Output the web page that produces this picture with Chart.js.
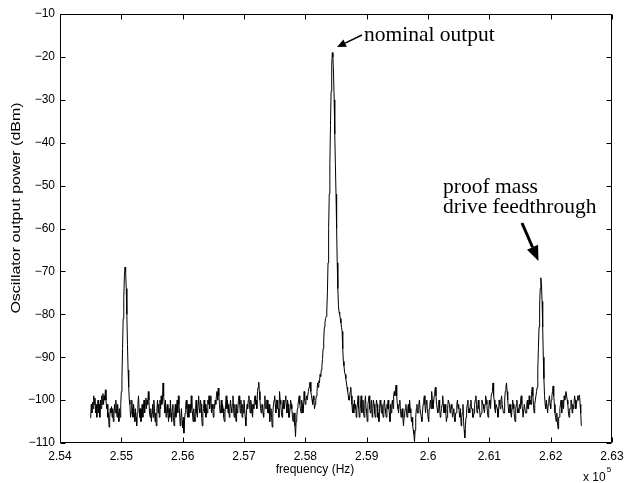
<!DOCTYPE html>
<html><head><meta charset="utf-8">
<script src="https://cdn.jsdelivr.net/npm/chart.js@4.4.0/dist/chart.umd.min.js"></script>
<style>html,body{margin:0;padding:0;background:#fff;}#wrap{width:630px;height:483px;position:relative;}</style>
</head><body><div id="wrap"><canvas id="c" width="630" height="483"></canvas></div>
<script>
// Sweep settings of the spectrum (Hz)
const freqStartHz = 254500;
const freqStepHz = 10;
const freqScale = 1e5; // axis shows frequency x 10^5

// Oscillator output power (dBm), one value per sweep point (801 points)
const powerDbm = [
 -104.2,-101,-103,-100.5,-102,-99,-101,-99.5,-103,-101,-104,-102,-100,-103,-101,-104,-100,-102,-99,-101,
 -98.5,-101,-99,-100,-97.6,-100,-102,-101,-104,-103,-106.3,-104,-102,-103,-101.5,-104,-102,-105,-103,-101,
 -103,-100,-102,-104,-101,-103,-105,-102,-104,-101,-98,-95,-88,-81,-76,-71,-69,-70,-74,-80,
 -87,-93,-97,-100,-101,-104,-103,-100,-102,-104,-101,-103,-105,-102,-104,-106,-103,-101,-99,-102,
 -104,-102,-105,-103,-101,-104,-102,-100,-103,-101,-99.5,-102,-100,-101,-98,-100,-103,-104,-102,-105,
 -103,-101,-104,-100,-102,-105,-103,-106,-102,-100,-103,-101,-104,-100,-102,-99,-101,-100,-96,-99,
 -101,-103,-100,-104,-102,-101,-103,-105,-102,-104,-100,-103,-105,-102,-101,-104,-106,-103,-101,-104,
 -102,-100,-103,-99,-101,-103,-106,-104,-102,-105,-106.5,-104,-107.7,-105,-103,-101,-100,-102,-104,-101,
 -104,-102,-101,-103,-99,-102,-103,-105,-102,-104,-105,-102,-100,-103,-104,-101,-99,-102,-103,-100,
 -101,-104,-106,-103,-102,-100,-103,-101,-104,-102,-103,-100,-101,-99,-102,-100,-99,-103,-101,-102,
 -104,-101,-102,-100,-101,-99,-98,-100,-97.2,-99,-101,-103,-102,-100,-103,-101,-102,-104,-105,-103,
 -101,-99,-102,-100,-103,-101,-104,-102,-100,-102,-103,-101,-99,-102,-104,-101,-103,-105,-101,-103,
 -102,-100,-99,-101,-103,-100,-102,-104,-101,-103,-100,-102,-104,-106,-103,-101,-102,-100,-99,-101,
 -103,-100,-101,-103,-104,-101,-102,-100,-99,-101,-100,-102,-98,-97,-95.8,-98,-100,-102,-103,-101,
 -101,-103,-104,-101,-99,-102,-102,-100,-100,-103,-103,-101,-105,-103,-102,-104,-106.3,-103,-101,-100,
 -99,-101,-103,-100,-100,-102,-102,-104,-98,-100,-101,-103,-104,-101,-100,-102,-102,-100,-99,-101,
 -103,-100,-101,-104,-104,-102,-100,-101,-102,-104,-105,-103,-103,-106,-108.5,-105,-104,-102,-101,-100,
 -99,-101,-102,-103,-100,-101,-103,-102,-98,-100,-101,-100,-99,-100,-100,-98,-97,-96,-95.8,-98,
 -99,-100,-101,-99,-100,-102,-101,-100,-99,-98,-96,-97,-95.5,-96,-94,-94.5,-93,-92,-90.5,-88,
 -86,-83,-82,-81,-80.5,-79,-75,-68,-60,-52,-45,-36,-28,-22,-19,-20,-24,-30,-38,-45,
 -52,-60,-68,-74,-78,-79.5,-80,-81,-82,-83,-84,-88,-91,-92,-93.5,-94,-95,-96,-97,-98,
 -99,-100,-100,-98,-97,-99,-101,-103,-101,-103,-100,-102,-101,-104,-102,-101,-99,-102,-104,-103,
 -101,-99,-103,-102,-100,-103,-104,-101,-99,-102,-103,-105,-101,-100,-99,-102,-103,-101,-100,-104,
 -102,-100,-101,-103,-104,-102,-100,-101,-104,-103,-105,-102,-100,-101,-103,-101,-103,-104,-101,-100,
 -102,-103,-104,-101,-102,-100,-102,-103,-105,-101,-103,-101,-100,-102,-99,-98,-99,-97.5,-96.5,-99,
 -101,-102,-103,-101,-100,-102,-104,-103,-102,-104,-106,-104,-103,-102,-101,-103,-104,-102,-101,-103,
 -100,-102,-103,-105,-104,-106,-107,-108,-109.7,-107,-104,-102,-101,-103,-103,-101,-100,-102,-102,-104,
 -105,-103,-101,-100,-99,-101,-103,-101,-100,-102,-104,-105,-102,-101,-100,-102,-98,-100,-102,-101,
 -99,-98,-97,-99,-101,-102,-103,-101,-100,-102,-104,-103,-102,-101,-99,-101,-103,-102,-101,-103,
 -105,-104,-102,-100,-100,-101,-103,-102,-101,-102,-104,-103,-102,-104,-105,-103,-103,-101,-100,-102,
 -101,-103,-104,-102,-106,-104,-103,-101,-105,-107,-108.8,-106,-104,-102,-101,-100,-103,-102,-103,-101,
 -100,-102,-102,-104,-104,-103,-101,-100,-99,-101,-103,-102,-100,-102,-102,-104,-104,-103,-100,-101,
 -101,-102,-103,-101,-99,-100,-101,-103,-104,-102,-100,-101,-102,-99,-99,-98,-96,-99,-100,-102,
 -103,-101,-101,-102,-104,-103,-100,-101,-102,-100,-99,-101,-101,-103,-103,-100,-98,-97,-96,-98,
 -100,-102,-103,-101,-101,-103,-104,-102,-100,-101,-102,-104,-105,-102,-101,-100,-103,-102,-103,-101,
 -102,-100,-99,-101,-102,-104,-104,-101,-101,-103,-103,-101,-100,-102,-102,-99,-101,-100,-101,-98,
 -97,-99,-101,-103,-101,-100,-100,-98,-97,-93,-88,-83,-78,-74,-71.5,-73,-77,-83,-90,-95,
 -99,-101,-102,-100,-100,-103,-101,-100,-99,-101,-102,-100,-99,-98,-96.7,-99,-101,-103,-104,-105,
 -103,-105,-106.7,-104,-104,-102,-101,-100,-103,-101,-100,-102,-99,-100,-99,-98,-98,-100,-101,-103,
 -104,-102,-102,-100,-100,-103,-101,-102,-101,-99,-100,-102,-101,-100,-99,-100,-99,-98.8,-101,-103,
 -106
];

const xTickValues = [2.54,2.55,2.56,2.57,2.58,2.59,2.6,2.61,2.62,2.63];
const yTickValues = [-110,-100,-90,-80,-70,-60,-50,-40,-30,-20,-10];
const xTitle = 'frequency (Hz)';
const yTitle = 'Oscillator output power (dBm)';
const xExpBase = 'x 10';
const xExpPower = '5';
const noteMain = 'nominal output';
const noteSide = ['proof mass', 'drive feedthrough'];

const points = powerDbm.map((p, i) => ({ x: (freqStartHz + i * freqStepHz) / freqScale, y: p }));

const SANS = '"Liberation Sans", Arial, Helvetica, sans-serif';
const SERIF = '"Liberation Serif", "Times New Roman", serif';

function arrow(ctx, x0, y0, x1, y1, lw, headLen, headW) {
  const ang = Math.atan2(y1 - y0, x1 - x0);
  const bx = x1 - headLen * Math.cos(ang), by = y1 - headLen * Math.sin(ang);
  ctx.lineWidth = lw;
  ctx.beginPath(); ctx.moveTo(x0, y0); ctx.lineTo(bx, by); ctx.stroke();
  ctx.beginPath();
  ctx.moveTo(x1, y1);
  ctx.lineTo(bx + headW / 2 * Math.sin(ang), by - headW / 2 * Math.cos(ang));
  ctx.lineTo(bx - headW / 2 * Math.sin(ang), by + headW / 2 * Math.cos(ang));
  ctx.closePath(); ctx.fill();
}

const framePlugin = {
  id: 'frame',
  afterDraw(chart) {
    const { ctx, chartArea: a, scales: { x, y } } = chart;
    ctx.save();
    ctx.strokeStyle = '#000'; ctx.fillStyle = '#000'; ctx.lineWidth = 1;
    const L = Math.round(a.left) + 0.5, R = Math.round(a.right) - 0.5;
    const T = Math.round(a.top) + 0.5, B = Math.round(a.bottom) - 0.5;
    ctx.beginPath(); ctx.rect(L, T, R - L, B - T); ctx.stroke();
    const tl = 5;
    ctx.beginPath();
    xTickValues.forEach(v => {
      const px = Math.round(x.getPixelForValue(v)) + 0.5;
      ctx.moveTo(px, B); ctx.lineTo(px, B - tl);
      ctx.moveTo(px, T); ctx.lineTo(px, T + tl);
    });
    yTickValues.forEach(v => {
      const py = Math.round(y.getPixelForValue(v)) + 0.5;
      ctx.moveTo(L, py); ctx.lineTo(L + tl, py);
      ctx.moveTo(R, py); ctx.lineTo(R - tl, py);
    });
    ctx.stroke();

    // axis titles
    ctx.font = '12px ' + SANS;
    ctx.textAlign = 'center'; ctx.textBaseline = 'middle';
    ctx.fillText(xTitle, 315, 470);
    ctx.save();
    ctx.translate(17, 208); ctx.rotate(-Math.PI / 2); ctx.scale(1.33, 1);
    ctx.font = '12px ' + SANS;
    ctx.fillText(yTitle, 0, 0);
    ctx.restore();
    // exponent
    ctx.textAlign = 'left'; ctx.textBaseline = 'alphabetic';
    ctx.font = '12px ' + SANS;
    ctx.fillText(xExpBase, 583, 481);
    const w = ctx.measureText(xExpBase).width;
    ctx.font = '8px ' + SANS;
    ctx.fillText(xExpPower, 583 + w + 1, 472);

    // annotations
    ctx.font = '21.5px ' + SERIF;
    ctx.fillText(noteMain, 364, 41);
    arrow(ctx, 362, 35, 337, 47, 1.5, 9, 8);
    ctx.fillText(noteSide[0], 443, 193);
    ctx.fillText(noteSide[1], 443, 213);
    arrow(ctx, 522, 223, 538.5, 261, 3, 15, 12);
    ctx.restore();
  }
};

new Chart(document.getElementById('c'), {
  type: 'line',
  data: { datasets: [{ data: points, borderColor: '#000', borderWidth: 1, pointRadius: 0, tension: 0, fill: false }] },
  options: {
    responsive: false, animation: false, parsing: false, normalized: true,
    layout: { padding: { top: 14, right: 18, left: 0, bottom: 0 } },
    plugins: { legend: { display: false }, tooltip: { enabled: false } },
    scales: {
      x: {
        type: 'linear', min: 2.54, max: 2.63,
        afterBuildTicks: s => { s.ticks = xTickValues.map(v => ({ value: v })); },
        afterFit: s => { s.height = 40; },
        grid: { display: false, drawTicks: false }, border: { display: false },
        ticks: { color: '#000', font: { family: SANS, size: 12 }, padding: 6, maxRotation: 0, autoSkip: false,
          callback: v => String(Number(v.toFixed(2))) }
      },
      y: {
        type: 'linear', min: -110, max: -10,
        afterBuildTicks: s => { s.ticks = yTickValues.map(v => ({ value: v })); },
        afterFit: s => { s.width = 60; },
        grid: { display: false, drawTicks: false }, border: { display: false },
        ticks: { color: '#000', font: { family: SANS, size: 12 }, padding: 5, autoSkip: false,
          callback: v => String(v).replace('-', '\u2212') }
      }
    }
  },
  plugins: [framePlugin]
});
</script>
</body></html>
